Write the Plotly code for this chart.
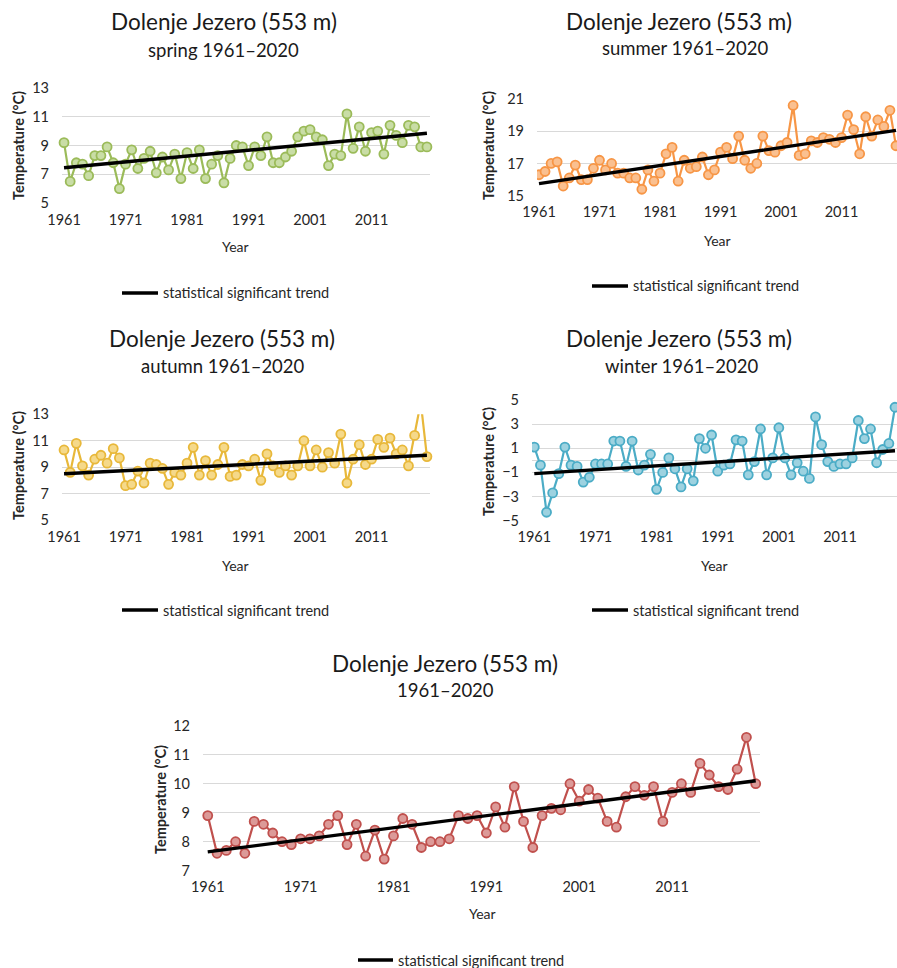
import plotly.graph_objects as go

W, H = 897, 968
FONT = "Lato"
TXT = "#262626"


def fx(px):
    return px / W


def fy(py):
    return 1 - py / H


years = list(range(1961, 2021))

spring = [9.2, 6.5, 7.8, 7.7, 6.9, 8.3, 8.3, 8.9, 7.8, 6.0, 7.7, 8.7, 7.4, 8.1, 8.6, 7.1, 8.2, 7.3, 8.4, 6.7,
          8.5, 7.4, 8.7, 6.7, 7.7, 8.3, 6.4, 8.1, 9.0, 8.9, 7.6, 8.9, 8.3, 9.6, 7.8, 7.8, 8.2, 8.6, 9.6, 10.0,
          10.1, 9.6, 9.4, 7.6, 8.4, 8.3, 11.2, 8.8, 10.3, 8.6, 9.9, 10.0, 8.4, 10.4, 9.7, 9.2, 10.4, 10.3, 8.9, 8.9]
summer = [16.3, 16.5, 17.0, 17.1, 15.6, 16.1, 16.9, 16.0, 16.0, 16.7, 17.2, 16.6, 17.0, 16.4, 16.4, 16.1, 16.1,
          15.4, 16.6, 15.9, 16.4, 17.6, 18.0, 15.9, 17.2, 16.7, 16.8,
          17.4, 16.3, 16.6, 17.7, 18.0, 17.3, 18.7, 17.2, 16.7, 17.0, 18.7, 17.8, 17.7, 18.1, 18.3, 20.6, 17.5,
          17.6, 18.4, 18.3, 18.6, 18.5, 18.3, 18.6, 20.0, 19.1, 17.6, 19.9, 18.7, 19.7, 19.3, 20.3, 18.1]
autumn = [10.3, 8.6, 10.8, 9.1, 8.4, 9.6, 9.9, 9.3, 10.4, 9.7, 7.6, 7.7, 8.7, 7.8, 9.3, 9.2, 8.9, 7.7, 8.6, 8.4,
          9.3, 10.5, 8.4, 9.5, 8.4, 9.2,
          10.5, 8.3, 8.4, 9.2, 9.1, 9.6, 8.0, 10.0, 9.1, 8.6, 9.1, 8.4, 9.1, 11.0, 9.1, 10.3, 9.0, 10.1, 9.3, 11.5,
          7.8, 9.6, 10.7, 9.2, 9.6, 11.1, 10.5, 11.2, 10.0, 10.3, 9.1, 11.4, 13.9, 9.8]
winter = [1.1, -0.4, -4.3, -2.7, -1.1, 1.1, -0.4, -0.5, -1.8, -1.4, -0.3, -0.3, -0.3, 1.6, 1.6, -0.5, 1.6, -0.8,
          -0.4, 0.5, -2.4, -1.0, 0.2, -0.7,
          -2.2, -0.7, -1.7, 1.8, 1.0, 2.1, -0.9, -0.4, -0.3, 1.7, 1.6, -1.2, -0.1, 2.6, -1.2, 0.2, 2.7, 0.2, -1.2,
          -0.2, -0.9, -1.5, 3.6, 1.3, -0.1, -0.5, -0.3, -0.3, 0.2, 3.3, 1.8, 2.6, -0.2, 0.9, 1.4, 4.4]
annual = [8.9, 7.6, 7.7, 8.0, 7.6, 8.7, 8.6, 8.3, 8.0, 7.9, 8.1, 8.1, 8.2, 8.6, 8.9, 7.9, 8.6, 7.5, 8.4, 7.4,
          8.2, 8.8, 8.6, 7.8, 8.0,
          8.0, 8.1, 8.9, 8.8, 8.9, 8.3, 9.2, 8.5, 9.9, 8.7, 7.8, 8.9, 9.15, 9.1, 10.0, 9.4, 9.8, 9.5, 8.7, 8.5,
          9.55, 9.9, 9.6, 9.9, 8.7, 9.7, 10.0, 9.7, 10.7, 10.3, 9.9, 9.8, 10.5, 11.6, 10.0]

trend_years = [1961, 2020]
spring_trend = [7.45, 9.85]
summer_trend = [15.75, 19.05]
autumn_trend = [8.5, 9.9]
winter_trend = [-1.1, 0.8]
annual_trend = [7.65, 10.1]

tick_years = [1961, 1971, 1981, 1991, 2001, 2011]

station = "Dolenje Jezero (553 m)"
subtitles = ["spring 1961–2020", "summer 1961–2020", "autumn 1961–2020", "winter 1961–2020", "1961–2020"]
legend_text = "statistical significant trend"
y_title = "Temperature (°C)"
x_title = "Year"

panels = [
    dict(vals=spring, trend=spring_trend, line="#9BBB59", fill="#C9DDA6",
         px=(62, 430), py=(88, 203), xr=(1960.67, 2020.5), yr=(5, 13), dt=2,
         title=(224, 22), sub=(223, 50), ytl=(18, 146), xtl=(235, 246), leg=(122, 158, 293)),
    dict(vals=summer, trend=summer_trend, line="#F79646", fill="#FAC090",
         px=(537, 897), py=(99, 195.7), xr=(1960.67, 2020.17), yr=(15, 21), dt=2,
         title=(679, 22), sub=(685, 48), ytl=(488, 146), xtl=(717, 240), leg=(592, 628, 286)),
    dict(vals=autumn, trend=autumn_trend, line="#E8B83A", fill="#F5D98A",
         px=(62, 430), py=(414.3, 520), xr=(1960.67, 2020.5), yr=(5, 13), dt=2,
         title=(222, 338), sub=(223, 366), ytl=(18, 466), xtl=(235, 565), leg=(122, 158, 610)),
    dict(vals=winter, trend=winter_trend, line="#4BACC6", fill="#9DD2E0",
         px=(532, 897), py=(400, 520.7), xr=(1960.62, 2020.33), yr=(-5, 5), dt=2,
         title=(679, 338), sub=(681, 366), ytl=(488, 462), xtl=(714, 565), leg=(592, 628, 610)),
    dict(vals=annual, trend=annual_trend, line="#C0504D", fill="#DC9A98",
         px=(203, 760), py=(725.7, 870.7), xr=(1960.49, 2020.46), yr=(7, 12), dt=1,
         title=(445, 663), sub=(445, 690), ytl=(160, 800), xtl=(482, 913), leg=(358, 393, 960)),
]

fig = go.Figure()
annotations = []
shapes = []
layout = {}

for i, p in enumerate(panels):
    n = "" if i == 0 else str(i + 1)
    xa, ya = "x" + n, "y" + n
    clip = i in (1, 3)
    fig.add_trace(go.Scatter(
        x=years, y=p["vals"], xaxis=xa, yaxis=ya, mode="lines+markers",
        line=dict(color=p["line"], width=2.2),
        marker=dict(symbol="circle", size=9, color=p["fill"], line=dict(color=p["line"], width=1.8)),
        cliponaxis=clip, showlegend=False, hoverinfo="x+y"))
    fig.add_trace(go.Scatter(
        x=trend_years, y=p["trend"], xaxis=xa, yaxis=ya, mode="lines",
        line=dict(color="black", width=3.4), showlegend=False, hoverinfo="skip"))

    x0, x1 = p["px"]
    yt, yb = p["py"]
    y0, y1 = p["yr"]
    layout["xaxis" + n] = dict(
        domain=[fx(x0), min(fx(x1), 1.0)], range=list(p["xr"]), anchor=ya,
        tickmode="array", tickvals=tick_years, ticktext=[str(t) for t in tick_years],
        showgrid=False, zeroline=False, showline=False, ticks="", automargin=False,
        ticklabelstandoff=6,
        tickfont=dict(family=FONT, size=14.5, color=TXT))
    layout["yaxis" + n] = dict(
        domain=[fy(yb), fy(yt)], range=[y0, y1], anchor=xa,
        tickmode="linear", tick0=y0, dtick=p["dt"],
        showgrid=True, gridcolor="#D9D9D9", gridwidth=1,
        zeroline=(i == 3), zerolinecolor="#D9D9D9", zerolinewidth=1,
        showline=False, ticks="", ticklabelstandoff=12, automargin=False,
        tickfont=dict(family=FONT, size=14.5, color=TXT))

    annotations.append(dict(text=station, x=fx(p["title"][0]), y=fy(p["title"][1]),
                            xref="paper", yref="paper", showarrow=False, xanchor="center", yanchor="middle",
                            font=dict(family=FONT, size=22.5, color="#1a1a1a")))
    annotations.append(dict(text=subtitles[i], x=fx(p["sub"][0]), y=fy(p["sub"][1]),
                            xref="paper", yref="paper", showarrow=False, xanchor="center", yanchor="middle",
                            font=dict(family=FONT, size=18.5, color="#1a1a1a")))
    annotations.append(dict(text="<b>" + y_title + "</b>", x=fx(p["ytl"][0]), y=fy(p["ytl"][1]),
                            xref="paper", yref="paper", showarrow=False, textangle=-90,
                            xanchor="center", yanchor="middle",
                            font=dict(family=FONT, size=14.5, color=TXT)))
    annotations.append(dict(text=x_title, x=fx(p["xtl"][0]), y=fy(p["xtl"][1]),
                            xref="paper", yref="paper", showarrow=False, xanchor="center", yanchor="middle",
                            font=dict(family=FONT, size=14, color=TXT)))
    lx0, lx1, ly = p["leg"]
    shapes.append(dict(type="line", xref="paper", yref="paper", x0=fx(lx0), x1=fx(lx1),
                       y0=fy(ly), y1=fy(ly), line=dict(color="black", width=3.4)))
    annotations.append(dict(text=legend_text, x=fx(lx1 + 3), y=fy(ly),
                            xref="paper", yref="paper", showarrow=False, xanchor="left", yanchor="middle",
                            font=dict(family=FONT, size=14.5, color=TXT)))

fig.update_layout(
    width=W, height=H, margin=dict(l=0, r=0, t=0, b=0, pad=0, autoexpand=False),
    paper_bgcolor="white", plot_bgcolor="white",
    annotations=annotations, shapes=shapes, showlegend=False,
    font=dict(family=FONT, color=TXT),
    **layout)

fig.write_html("out.html",
               config={"displayModeBar": False},
               post_script="document.body.style.margin='0';document.body.style.overflow='hidden';")
